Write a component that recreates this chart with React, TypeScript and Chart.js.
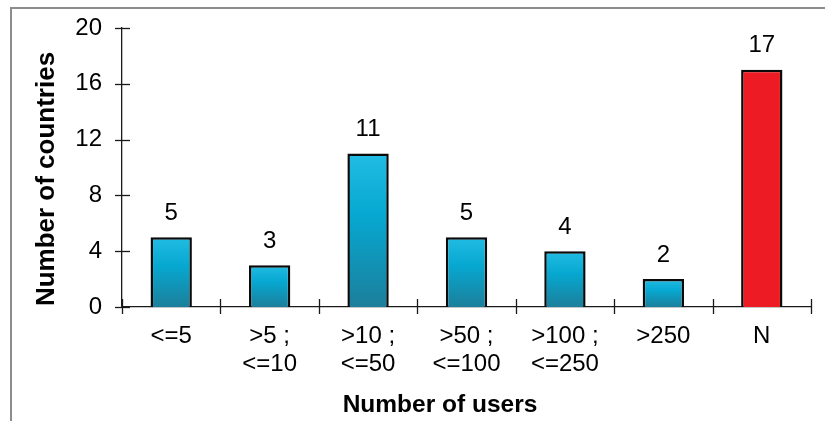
import React, { useEffect, useRef } from "react";
import { Chart, registerables } from "chart.js";

Chart.register(...registerables);

const categories: (string | string[])[] = [
  "<=5",
  [">5 ;", "<=10"],
  [">10 ;", "<=50"],
  [">50 ;", "<=100"],
  [">100 ;", "<=250"],
  ">250",
  "N",
];
const countryCounts: number[] = [5, 3, 11, 5, 4, 2, 17];
const isNoUser: boolean[] = [false, false, false, false, false, false, true];
const yTickMax = 20;
const yTickStep = 4;
const xTitle = "Number of users";
const yTitle = "Number of countries";

const FONT = "'Liberation Sans', Arial, sans-serif";

const decorPlugin = {
  id: "decor",
  afterDraw(chart: any) {
    const { ctx } = chart;
    const x = chart.scales.x;
    const y = chart.scales.y;
    ctx.save();
    ctx.strokeStyle = "#1a1a1a";
    ctx.lineWidth = 1.3;
    // y ticks crossing the axis
    y.ticks.forEach((t: any) => {
      const py = Math.round(y.getPixelForValue(t.value)) + 0.5;
      ctx.beginPath();
      ctx.moveTo(x.left - 7, py);
      ctx.lineTo(x.left + 8, py);
      ctx.stroke();
    });
    // x ticks at category boundaries
    const n = categories.length;
    for (let i = 0; i <= n; i++) {
      const px = Math.round(x.left + (i * (x.right - x.left)) / n) + 0.5;
      ctx.beginPath();
      ctx.moveTo(px, y.bottom - 8);
      ctx.lineTo(px, y.bottom + 7);
      ctx.stroke();
    }
    // value labels
    ctx.fillStyle = "#000";
    ctx.font = `24px ${FONT}`;
    ctx.textAlign = "center";
    ctx.textBaseline = "middle";
    const meta = chart.getDatasetMeta(0);
    meta.data.forEach((bar: any, i: number) => {
      ctx.fillText(String(countryCounts[i]), bar.x, bar.y - 24);
    });
    // axis titles
    ctx.font = `bold 24.5px ${FONT}`;
    ctx.fillText(xTitle, 440, 405);
    ctx.font = `bold 26px ${FONT}`;
    ctx.translate(47, 179);
    ctx.rotate(-Math.PI / 2);
    ctx.fillText(yTitle, 0, 0);
    ctx.restore();
  },
};

export default function App() {
  const ref = useRef<HTMLCanvasElement>(null);
  useEffect(() => {
    if (!ref.current) return;
    const chart = new Chart(ref.current, {
      type: "bar",
      data: {
        labels: categories,
        datasets: [
          {
            data: countryCounts,
            backgroundColor: (c: any) => {
              const i = c.dataIndex;
              if (i === undefined) return "#0aa8d0";
              if (isNoUser[i]) return "#ed1c24";
              const ys = c.chart.scales && c.chart.scales.y;
              if (!ys) return "#0aa8d0";
              const top = ys.getPixelForValue(countryCounts[i]);
              const bot = ys.getPixelForValue(0);
              if (!isFinite(top) || !isFinite(bot) || top === bot) return "#0aa8d0";
              const g = c.chart.ctx.createLinearGradient(0, top, 0, bot);
              g.addColorStop(0, "#22bce3");
              g.addColorStop(0.4, "#06a8d1");
              g.addColorStop(1, "#1c7f9b");
              return g;
            },
            borderColor: "#0a0a0a",
            borderWidth: 2.5,
            barPercentage: 0.42,
            categoryPercentage: 1,
          },
        ],
      },
      options: {
        responsive: false,
        animation: false,
        layout: { padding: { top: 28, right: 14, left: 0, bottom: 0 } },
        plugins: {
          legend: { display: false },
          tooltip: { enabled: false },
        },
        scales: {
          x: {
            grid: { display: false },
            border: { display: true, color: "#1a1a1a", width: 1.3 },
            ticks: {
              color: "#000",
              font: { family: FONT, size: 24, lineHeight: 1.15 },
              padding: 8,
              maxRotation: 0,
              autoSkip: false,
            },
            afterFit: (s: any) => {
              s.height = 114;
            },
          },
          y: {
            min: 0,
            max: yTickMax,
            grid: { display: false },
            border: { display: true, color: "#1a1a1a", width: 1.3 },
            ticks: {
              stepSize: yTickStep,
              color: "#000",
              font: { family: FONT, size: 24 },
              padding: 12,
            },
            afterFit: (s: any) => {
              s.width = 122;
            },
          },
        },
      },
      plugins: [decorPlugin],
    });
    chart.update();
    return () => chart.destroy();
  }, []);
  return (
    <div style={{ position: "absolute", left: 0, top: 0, width: 825, height: 421, background: "#fff" }}>
      <div
        style={{
          position: "absolute",
          left: 10,
          top: 7,
          right: 0,
          bottom: 0,
          borderTop: "2px solid #8c8c8c",
          borderLeft: "2px solid #8c8c8c",
        }}
      />
      <canvas ref={ref} width={825} height={421} style={{ position: "absolute", left: 0, top: 0 }} />
    </div>
  );
}
